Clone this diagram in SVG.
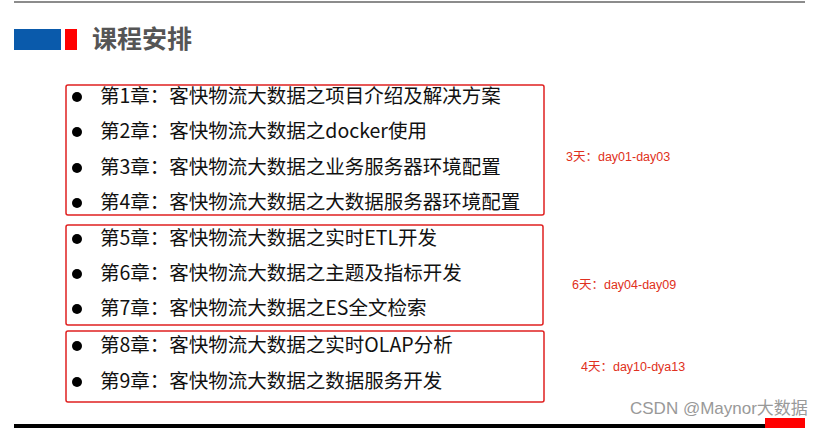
<svg xmlns="http://www.w3.org/2000/svg" width="839" height="428" viewBox="0 0 839 428">
<style>
.t{font-family:"Noto Sans CJK SC",sans-serif;font-size:19.5px;fill:#111}
.box{fill:none;stroke:#e02020;stroke-width:1.5}
.d{font-family:"Liberation Sans","Noto Sans CJK SC",sans-serif;font-size:12.5px;fill:#e03020}
</style>
<rect width="839" height="428" fill="#fff"/>
<line x1="14" y1="2" x2="805" y2="2" stroke="#666" stroke-width="1.5"/>
<g id="header">
<rect x="14" y="29" width="47" height="21" fill="#0a5aab"/>
<rect x="65" y="29" width="12" height="21" fill="#f00"/>
<text x="92" y="48" font-family="Noto Sans CJK SC,sans-serif" font-size="25" font-weight="bold" fill="#555">课程安排</text>
</g>
<g id="group1">
<rect class="box" x="66" y="85" width="478" height="130" rx="2"/>
<circle cx="77" cy="97" r="5" fill="#000"/><text class="t" x="100" y="103">第1章：客快物流大数据之项目介绍及解决方案</text>
<circle cx="77" cy="132" r="5" fill="#000"/><text class="t" x="100" y="138">第2章：客快物流大数据之docker使用</text>
<circle cx="77" cy="168" r="5" fill="#000"/><text class="t" x="100" y="174">第3章：客快物流大数据之业务服务器环境配置</text>
<circle cx="77" cy="203" r="5" fill="#000"/><text class="t" x="100" y="209">第4章：客快物流大数据之大数据服务器环境配置</text>
<text class="d" x="566" y="161">3天：day01-day03</text>
</g>
<g id="group2">
<rect class="box" x="66" y="225" width="477" height="100" rx="2"/>
<circle cx="77" cy="239" r="5" fill="#000"/><text class="t" x="100" y="245">第5章：客快物流大数据之实时ETL开发</text>
<circle cx="77" cy="274" r="5" fill="#000"/><text class="t" x="100" y="280">第6章：客快物流大数据之主题及指标开发</text>
<circle cx="77" cy="309" r="5" fill="#000"/><text class="t" x="100" y="315">第7章：客快物流大数据之ES全文检索</text>
<text class="d" x="572" y="289">6天：day04-day09</text>
</g>
<g id="group3">
<rect class="box" x="66" y="331" width="478" height="71" rx="2"/>
<circle cx="77" cy="346" r="5" fill="#000"/><text class="t" x="100" y="352">第8章：客快物流大数据之实时OLAP分析</text>
<circle cx="77" cy="382" r="5" fill="#000"/><text class="t" x="100" y="388">第9章：客快物流大数据之数据服务开发</text>
<text class="d" x="581" y="371">4天：day10-dya13</text>
</g>
<text x="630" y="414" font-family="Liberation Sans,Noto Sans CJK SC,sans-serif" font-size="17" fill="#999">CSDN @Maynor大数据</text>
<rect x="14" y="424" width="791" height="4" fill="#000"/>
<rect x="765" y="418" width="40" height="10" fill="#f00"/>
</svg>
